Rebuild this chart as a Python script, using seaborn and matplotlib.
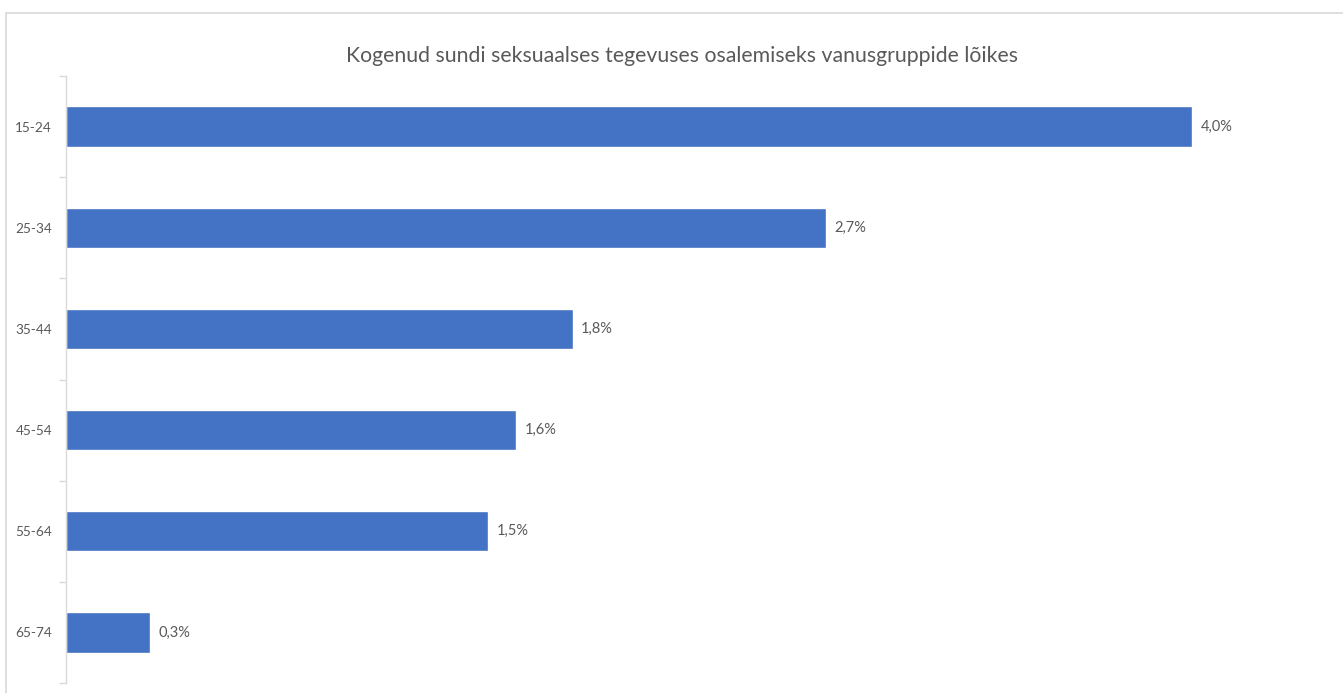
import matplotlib
matplotlib.use("Agg")
import matplotlib.pyplot as plt
import seaborn as sns
import pandas as pd
from matplotlib.patches import Rectangle

categories = ["15-24", "25-34", "35-44", "45-54", "55-64", "65-74"]
values = [4.0, 2.7, 1.8, 1.6, 1.5, 0.3]
labels = ["4,0%", "2,7%", "1,8%", "1,6%", "1,5%", "0,3%"]
title = "Kogenud sundi seksuaalses tegevuses osalemiseks vanusgruppide lõikes"

sns.set_theme(style="white")
plt.rcParams['font.family'] = ['Lato', 'DejaVu Sans']

W, H = 1343, 693
fig = plt.figure(figsize=(W/100, H/100), dpi=100)
ax = fig.add_axes([66/W, (H-683)/H, (1330-66)/W, (683-76)/H])

df = pd.DataFrame({"cat": categories, "val": values})
sns.barplot(data=df, y="cat", x="val", orient="h", color="#4472C4",
            saturation=1, width=0.4, ax=ax)

scale = 4.0 * (1330-66) / (1192-66)
ax.set_xlim(0, scale)
ax.set_ylim(len(categories)-0.5, -0.5)
ax.set_xlabel("")
ax.set_ylabel("")
ax.set_xticks([])
for s in ["top", "right", "bottom"]:
    ax.spines[s].set_visible(False)
ax.spines["left"].set_color("#D9D9D9")
ax.spines["left"].set_linewidth(1)

ax.set_yticks([i - 0.5 for i in range(len(categories)+1)], minor=False)
ax.set_yticklabels([])
ax.tick_params(axis="y", which="major", length=5, color="#D9D9D9", width=1, left=True)
ax.set_yticks(range(len(categories)), minor=True)
ax.set_yticklabels(categories, minor=True)
ax.tick_params(axis="y", which="minor", length=0, pad=10, labelsize=9.8, labelcolor="#595959")

for i, (v, lab) in enumerate(zip(values, labels)):
    ax.text(v + 0.03, i, lab, va="center", ha="left", fontsize=10.5, color="#595959")

fig.text(682/W, 1 - 56/H, title, ha="center", va="center", fontsize=15.3, color="#595959")

fig.patches.append(Rectangle((6/W, -0.1), 1.2, 1 - 13/H + 0.1, transform=fig.transFigure,
                             fill=False, edgecolor="#D9D9D9", linewidth=1.2))

fig.savefig("out.png", dpi=100)
